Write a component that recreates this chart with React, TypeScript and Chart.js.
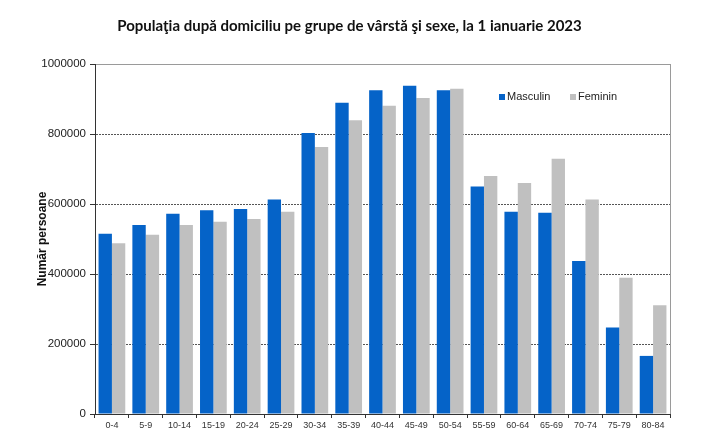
import React, { useEffect, useRef } from "react";
import { Chart, registerables } from "chart.js";

Chart.register(...registerables);

const categories = ["0-4", "5-9", "10-14", "15-19", "20-24", "25-29", "30-34", "35-39", "40-44", "45-49", "50-54", "55-59", "60-64", "65-69", "70-74", "75-79", "80-84"];
const masculin = [515000, 540000, 572000, 582000, 586000, 613000, 803000, 889000, 925000, 938000, 925000, 650000, 578000, 575000, 437000, 247000, 166000];
const feminin = [488000, 512000, 540000, 549000, 557000, 578000, 763000, 839000, 881000, 903000, 929000, 680000, 660000, 729000, 613000, 389000, 311000];
const yTicks = [0, 200000, 400000, 600000, 800000, 1000000];
const titleText = "Populaţia după domiciliu pe grupe de vârstă şi sexe, la 1 ianuarie 2023";
const yTitle = "Număr persoane";

const SANS = "Arial, 'Liberation Sans', sans-serif";

const frameAndLegend = {
  id: "frameAndLegend",
  afterDraw(chart: any) {
    const { ctx, chartArea } = chart;
    ctx.save();
    // chart title
    ctx.font = "bold 15px Lato, 'Liberation Sans', sans-serif";
    ctx.fillStyle = "#111";
    ctx.textAlign = "center";
    ctx.textBaseline = "middle";
    ctx.fillText(titleText, 349.5, 26);
    // right border of plot area
    ctx.strokeStyle = "#9a9a9a";
    ctx.lineWidth = 1;
    ctx.beginPath();
    ctx.moveTo(chartArea.right + 0.5, chartArea.top);
    ctx.lineTo(chartArea.right + 0.5, chartArea.bottom);
    ctx.stroke();
    // legend inside plot
    const ds = chart.data.datasets;
    const positions = [chartArea.left + 404, chartArea.left + 475];
    const cy = chartArea.top + 33;
    ctx.font = "11px " + SANS;
    ctx.textBaseline = "middle";
    ctx.textAlign = "left";
    ds.forEach((d: any, i: number) => {
      const x = positions[i];
      ctx.fillStyle = d.backgroundColor;
      ctx.fillRect(x, cy - 3, 6, 6);
      ctx.fillStyle = "#222";
      ctx.fillText(d.label, x + 8, cy);
    });
    ctx.restore();
  },
};

export default function App() {
  const ref = useRef<HTMLCanvasElement>(null);
  useEffect(() => {
    if (!ref.current) return;
    const chart = new Chart(ref.current, {
      type: "bar",
      data: {
        labels: categories,
        datasets: [
          { label: "Masculin", data: masculin, backgroundColor: "#0563c8", categoryPercentage: 0.79, barPercentage: 1.0 },
          { label: "Feminin", data: feminin, backgroundColor: "#c0c0c0", categoryPercentage: 0.79, barPercentage: 1.0 },
        ],
      },
      options: {
        animation: false,
        responsive: false,
        maintainAspectRatio: false,
        devicePixelRatio: 1,
        layout: { padding: { left: 0, right: 52, top: 64, bottom: 0 } },
        plugins: {
          legend: { display: false },
          tooltip: { enabled: false },
          title: { display: false },
        },
        scales: {
          x: {
            grid: { display: true, drawOnChartArea: false, drawTicks: true, tickLength: 4, color: "#333", tickColor: "#333", offset: true },
            border: { display: true, color: "#333", width: 1 },
            ticks: { color: "#333", font: { family: SANS, size: 9 }, padding: 2, maxRotation: 0, autoSkip: false },
            afterFit: (s: any) => { s.height = 25; },
          },
          y: {
            min: 0,
            max: 1000000,
            afterBuildTicks: (s: any) => { s.ticks = yTicks.map((v) => ({ value: v })); },
            grid: {
              color: (c: any) => (c.tick && c.tick.value === 1000000 ? "#9a9a9a" : "#555"),
              tickColor: "#333",
              tickLength: 5,
              drawTicks: true,
              lineWidth: 1,
            },
            border: {
              display: true,
              color: "#333",
              width: 1,
              dash: (c: any) => (c.tick && c.tick.value !== 1000000 && c.tick.value !== 0 ? [2, 1] : []),
            },
            ticks: {
              color: "#222",
              font: { family: SANS, size: 11.5 },
              padding: 4,
              callback: (v: any) => String(v),
            },
            title: {
              display: true,
              text: yTitle,
              color: "#111",
              font: { family: SANS, size: 12, weight: "bold", lineHeight: 1.2 },
              padding: { top: 35, bottom: 0 },
            },
            afterFit: (s: any) => { s.width = 95; },
          },
        },
      },
      plugins: [frameAndLegend],
    });
    return () => chart.destroy();
  }, []);
  return (
    <div style={{ position: "fixed", left: 0, top: 0, width: 722, height: 439, background: "#fff" }}>
      <canvas ref={ref} width={722} height={439} style={{ width: 722, height: 439, display: "block" }} />
    </div>
  );
}
